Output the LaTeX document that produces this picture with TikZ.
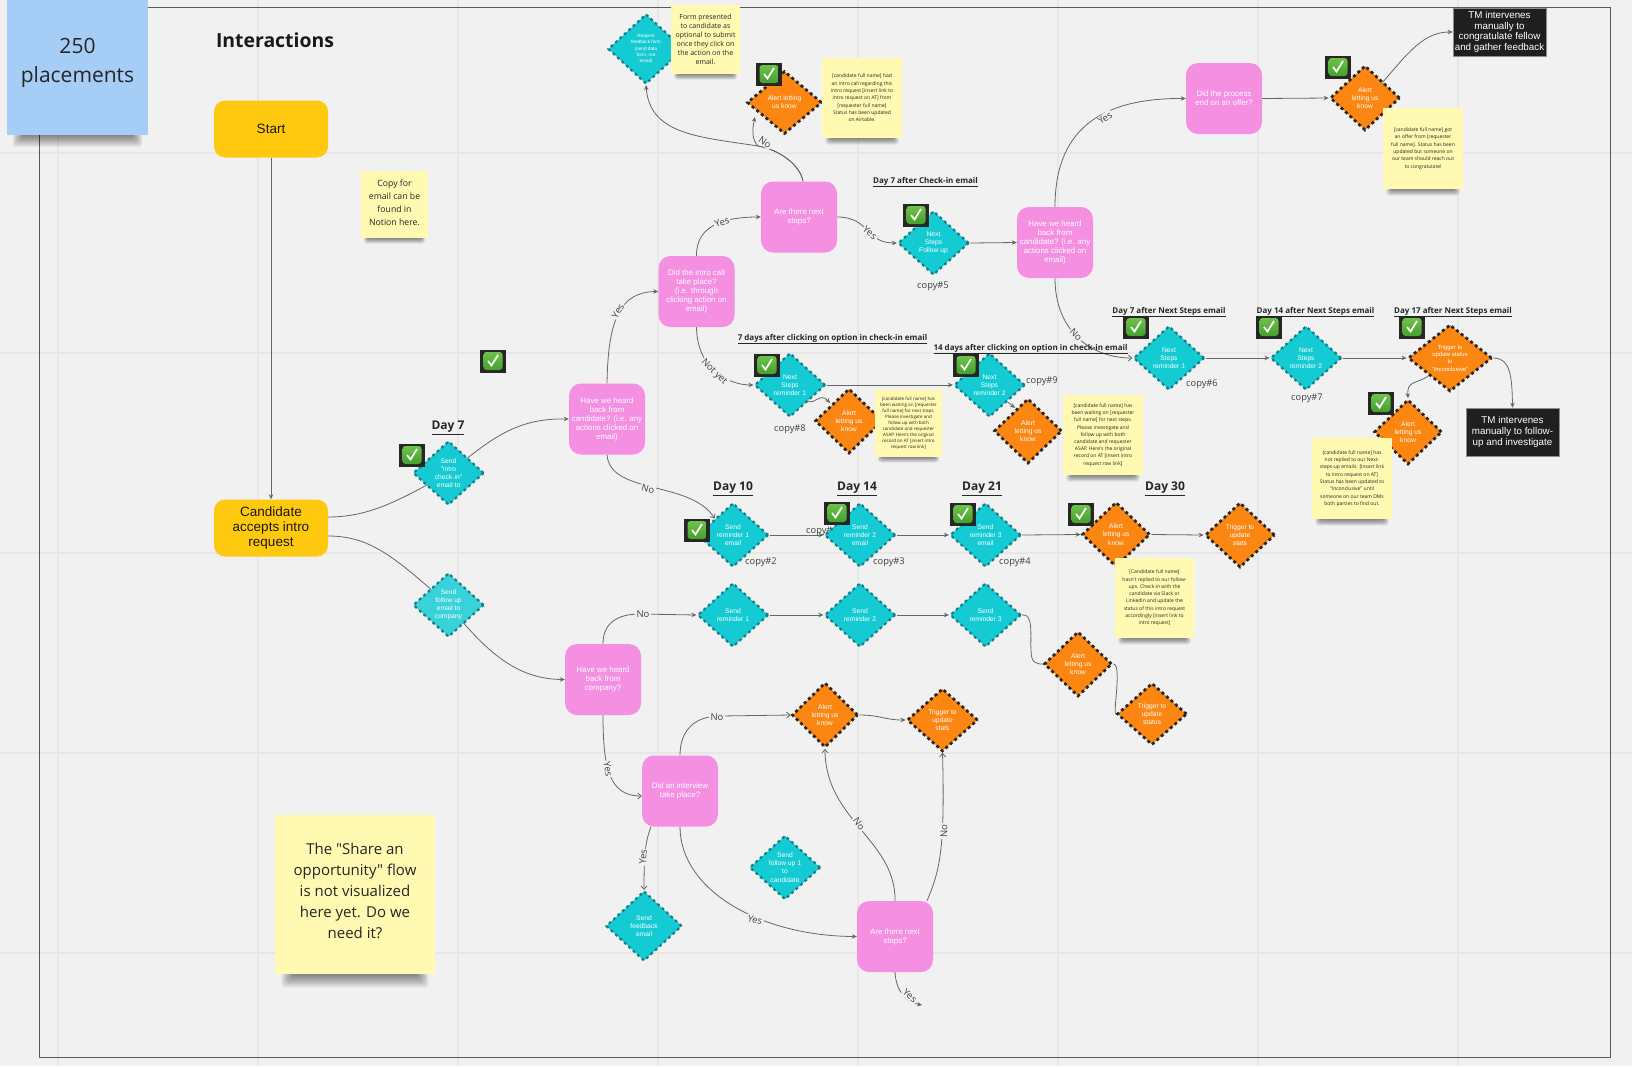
\documentclass[tikz,border=0pt]{standalone}
\usepackage{fontspec}
\setmainfont{Open Sans}[Ligatures=TeXOff]
\newfontfamily\arl{Liberation Sans}[Ligatures=TeXOff]
\usetikzlibrary{shapes.geometric,arrows.meta,calc}
\pgfdeclarelayer{bgl}
\pgfdeclarelayer{conn}
\pgfsetlayers{bgl,conn,main}
\definecolor{bgc}{HTML}{F1F1F1}
\definecolor{gridc}{HTML}{E7E7E7}
\definecolor{framec}{HTML}{5A5A5A}
\definecolor{tealc}{HTML}{14CAD3}
\definecolor{tealb}{HTML}{177E88}
\definecolor{orangec}{HTML}{FB8612}
\definecolor{pinkc}{HTML}{F48FE1}
\definecolor{yelc}{HTML}{FFC90F}
\definecolor{noteyc}{HTML}{FFF9B1}
\definecolor{noteb}{HTML}{A6CDF5}
\definecolor{linec}{HTML}{666666}
\definecolor{chkt}{HTML}{74C74C}
\definecolor{chkb}{HTML}{3F9B2B}
\tikzset{
  diafont/.style={font=\arl\fontsize{6.7}{8.1}\selectfont},
  diatext/.style={text=white,align=center,inner sep=0pt,diafont},
  tealdia/.style={shape=diamond,fill=tealc,draw=tealb,line width=2.2pt,dash pattern=on 2.8pt off 3.2pt,inner sep=0pt,minimum width=71pt,minimum height=64pt},
  orangedia/.style={shape=diamond,fill=orangec,draw=black!85,line width=2.7pt,dash pattern=on 3pt off 3pt,inner sep=0pt,minimum width=68pt,minimum height=65pt},
  pinkbox/.style={fill=pinkc,rounded corners=12pt,minimum width=76pt,minimum height=71pt,inner sep=0pt,text=white,align=center,font=\arl\fontsize{7.9}{9}\selectfont},
  yelbox/.style={fill=yelc,rounded corners=11pt,minimum width=114pt,minimum height=57pt,inner sep=0pt,text=black!90,align=center,font=\arl\fontsize{13.5}{15}\selectfont},
  blackbox/.style={fill=black!88,draw=black!45,line width=.6pt,minimum width=93pt,minimum height=48pt,inner sep=0pt,text=white,align=center,font=\arl\fontsize{9.8}{10.7}\selectfont},
  note/.style={fill=noteyc,inner sep=0pt,align=center,text=black!85},
  conn/.style={draw=linec,line width=.8pt},
  farr/.style={conn,-{Stealth[length=5pt,width=4.5pt]}},
  oarr/.style={conn,-{Straight Barb[length=3.5pt,width=6pt]}},
  el/.style={fill=bgc,inner sep=1.2pt,text=black!75,font=\fontsize{9.5}{10}\selectfont},
  daylab/.style={inner sep=0pt,text=black!85,font=\bfseries\fontsize{12}{13}\selectfont},
  sublab/.style={inner sep=0pt,text=black!85,font=\bfseries\fontsize{8}{9}\selectfont},
  copylab/.style={inner sep=0pt,text=black!75,font=\fontsize{9.3}{10}\selectfont},
  chkbox/.style={fill=black!85,minimum width=26pt,minimum height=23pt,inner sep=0pt,
    path picture={
      \shade[top color=chkt,bottom color=chkb,rounded corners=3pt]
        ([shift={(-9.5pt,9pt)}]path picture bounding box.center) rectangle ([shift={(9.5pt,-9pt)}]path picture bounding box.center);
      \draw[white,line width=1.7pt] ([shift={(-5pt,0pt)}]path picture bounding box.center) -- ([shift={(-1.5pt,-4.5pt)}]path picture bounding box.center) -- ([shift={(5pt,6pt)}]path picture bounding box.center);
    }},
}
\newcommand\chk[3]{\node[chkbox] (#1) at (#2,#3) {};}
\newcommand\tdia[5][]{\node[tealdia,#1,label={[diatext]center:{#5}}] (#2) at (#3,#4) {};}
\newcommand\odia[5][]{\node[orangedia,#1,label={[diatext]center:{#5}}] (#2) at (#3,#4) {};}
\newcommand\sticky[7]{%
  \foreach \i in {1,...,7}{
    \fill[black,opacity=.075,rounded corners=3pt] ([shift={(-#4/2+#4*0.03+#4*0.011*\i,#5/2-1)}]#2,#3) rectangle ([shift={(#4/2-#4*0.03-#4*0.011*\i,#5/2+#4*0.095*(1-\i/8))}]#2,#3);
  }
  \node[note,minimum width=#4pt,minimum height=#5pt,font=#6] (#1) at (#2,#3) {#7};}
\newcommand\sm{\fontsize{5}{7.3}\selectfont}
\begin{document}
\begin{tikzpicture}[x=1pt,y=-1pt]
\useasboundingbox (0,0) rectangle (1632,1066);
\begin{pgfonlayer}{bgl}
\fill[bgc] (0,0) rectangle (1632,1066);
\foreach \gx in {58,258,458,658,858,1058,1258,1458} \draw[gridc,line width=2pt] (\gx,0) -- (\gx,1066);
\foreach \gy in {153,353,553,753,953} \draw[gridc,line width=2pt] (0,\gy) -- (1632,\gy);
\draw[framec,line width=1pt] (39,7) rectangle (1610,1057);
\end{pgfonlayer}

% text that lies under shapes
\node[copylab,anchor=west] (c1) at (806,531) {copy\#1};

% blue sticky
\begin{scope}[note/.append style={fill=noteb}]
\sticky{blue}{77.5}{67.5}{141}{135}{\normalsize}{}
\end{scope}
\node[inner sep=0pt,align=center,text=black!85,font=\fontsize{21}{29}\selectfont] (bluet) at (77.5,63) {250\\placements};
\node[inner sep=0pt,text=black!90,font=\bfseries\fontsize{19.4}{22}\selectfont] (title) at (275,40) {Interactions};

% yellow boxes
\node[yelbox] (start) at (271,129) {Start};
\node[yelbox] (cand) at (271,528) {Candidate\\accepts intro\\request};
\sticky{copyn}{394.5}{204.5}{67}{67}{\normalsize}{}
\node[inner sep=0pt,align=center,text=black!85,font=\fontsize{8.7}{12.9}\selectfont] (copyt) at (394.5,202.5) {Copy for\\email can be\\found in\\Notion here.};

% first branch
\tdia{intro}{448.5}{473}{Send\\"intro\\check-in"\\email to}
\tdia[fill=tealc!85!white]{follow}{448.5}{605}{Send\\follow up\\email to\\company}
\node[pinkbox] (heard1) at (607,419) {Have we heard\\back from\\candidate? (i.e. any\\actions clicked on\\email)};
\node[pinkbox] (heardc) at (603,679.5) {Have we heard\\back from\\company?};
\node[pinkbox] (call) at (696.5,291.5) {Did the intro call\\take place?\\(i.e. through\\clicking action on\\email)};
\node[pinkbox] (next) at (799,217) {Are there next\\steps?};
\node[pinkbox] (heard3) at (1055,242.5) {Have we heard\\back from\\candidate? (i.e. any\\actions clicked on\\email)};
\node[pinkbox] (proc) at (1224,98.5) {Did the process\\end on an offer?};
\node[pinkbox] (inter) at (680,791) {Did an interview\\take place?};
\node[pinkbox] (next2) at (895,936.5) {Are there next\\steps?};

% top area
\begin{scope}[diafont/.style={font=\arl\fontsize{4.7}{6.2}\selectfont}]
\tdia[minimum width=76pt,minimum height=70pt]{req}{646}{49}{Request\\feedback form\\(send data\\form, not\\email)}
\end{scope}
\sticky{form}{705.5}{39.5}{69}{69}{\fontsize{7}{9}\selectfont}{Form presented\\to candidate as\\optional to submit\\once they click on\\the action on the\\email.}
\odia[minimum width=75pt,minimum height=63pt]{atop}{784.5}{102.5}{Alert letting\\us know}
\sticky{ntop}{862}{98}{80}{80}{\sm}{[candidate full name] had\\an intro call regarding this\\intro request [insert link to\\intro request on AT] from\\{}[requester full name]\\Status has been updated\\on Airtable.}
\odia[minimum width=70pt,minimum height=65pt]{aoffer}{1365}{98}{Alert\\letting us\\know}
\sticky{noffer}{1423}{148.5}{80}{81}{\sm}{[candidate full name] got\\an offer from [requester\\full name]. Status has been\\updated but someone on\\our team should reach out\\to congratulate!}
\node[blackbox] (tm1) at (1499.5,32) {TM intervenes\\manually to\\congratulate fellow\\and gather feedback};

\tdia{fu}{933.5}{243}{Next\\Steps\\Follow up}
\tdia{n1}{790}{385}{Next\\Steps\\reminder 1}
\tdia{n2}{989.5}{385}{Next\\Steps\\reminder 2}
\odia{a1}{849}{421}{Alert\\letting us\\know}
\odia{a2}{1028}{431}{Alert\\letting us\\know}
\sticky{nw1}{908.5}{423.5}{67}{67}{\fontsize{4.5}{6}\selectfont}{[candidate full name] has\\been waiting on [requester\\full name] for next steps.\\Please investigate and\\follow up with both\\candidate and requester\\ASAP. Here's the original\\record on AT [insert intro\\request row link]}
\sticky{nw2}{1103}{435}{80}{80}{\fontsize{5}{7.2}\selectfont}{[candidate full name] has\\been waiting on [requester\\full name] for next steps.\\Please investigate and\\follow up with both\\candidate and requester\\ASAP. Here's the original\\record on AT [insert intro\\request row link]}
\tdia{s1}{1169}{358}{Next\\Steps\\reminder 1}
\tdia{s2}{1306}{358}{Next\\Steps\\reminder 2}
\begin{scope}[diafont/.style={font=\arl\fontsize{5.9}{7.3}\selectfont}]
\odia[minimum width=84pt,minimum height=67pt]{trig}{1450}{358}{Trigger to\\update status\\to\\"Inconclusive"}
\end{scope}
\odia{al}{1408}{432}{Alert\\letting us\\know}
\sticky{nl}{1352}{478.5}{80}{81}{\sm}{[candidate full name] has\\not replied to our Next-\\steps-up emails. [Insert link\\to intro request on AT]\\Status has been updated to\\"Inconclusive" until\\someone on our team DMs\\both parties to find out.}
\node[blackbox] (tm2) at (1512.5,432) {TM intervenes\\manually to follow-\\up and investigate};

% day rows
\tdia{r1}{733}{535}{Send\\reminder 1\\email}
\tdia{r2}{860}{535}{Send\\reminder 2\\email}
\tdia{r3}{985.5}{535}{Send\\reminder 3\\email}
\odia{ad}{1116}{534.5}{Alert\\letting us\\know}
\odia[minimum width=70pt]{td}{1240}{535}{Trigger to\\update\\stats}
\sticky{nd}{1154.5}{598}{79}{80}{\sm}{[Candidate full name]\\hasn't replied to our follow-\\ups. Check-in with the\\candidate via Slack or\\LinkedIn and update the\\status of this intro request\\accordingly [insert link to\\intro request]}
\tdia{c1d}{733}{615}{Send\\reminder 1}
\tdia{c2d}{860}{615}{Send\\reminder 2}
\tdia{c3d}{985.5}{615}{Send\\reminder 3}
\odia{ac}{1078}{664}{Alert\\letting us\\know}
\odia[minimum width=70pt,minimum height=62pt]{tc}{1152}{714}{Trigger to\\update\\status}

% bottom
\odia[minimum width=66pt]{ab}{825}{715}{Alert\\letting us\\know}
\odia[minimum width=71pt,minimum height=63pt]{tb}{942.5}{720}{Trigger to\\update\\stats}
\tdia{fu1}{785}{867.5}{Send\\follow up 1\\to\\candidate}
\tdia[minimum width=76pt,minimum height=70pt]{fb}{644}{926}{Send\\feedback\\email}
\sticky{share}{355}{894.5}{160}{159}{\normalsize}{}
\node[inner sep=0pt,align=center,text=black!85,font=\fontsize{15}{21}\selectfont] (sharet) at (355,890.5) {The "Share an\\opportunity" flow\\is not visualized\\here yet. Do we\\need it?};

% check marks
\chk{k1}{493}{361}
\chk{k2}{412}{455}
\chk{k3}{769}{74}
\chk{k4}{1338}{67}
\chk{k5}{916}{215}
\chk{k6}{767}{365}
\chk{k7}{966}{365}
\chk{k8}{1136}{327}
\chk{k9}{1269}{327}
\chk{k10}{1412}{327}
\chk{k11}{1381}{403}
\chk{k12}{697}{530}
\chk{k13}{837}{513}
\chk{k14}{963}{514}
\chk{k15}{1081}{514}

% labels
\node[daylab] (d7) at (448,428) {\underline{Day 7}};
\node[daylab] (d10) at (733,489) {\underline{Day 10}};
\node[daylab] (d14) at (857,489) {\underline{Day 14}};
\node[daylab] (d21) at (982,489) {\underline{Day 21}};
\node[daylab] (d30) at (1165,489) {\underline{Day 30}};
\node[sublab] (h1) at (925.5,182) {\underline{Day 7 after Check-in email}};
\node[sublab] (h2) at (832.5,339) {\underline{7 days after clicking on option in check-in email}};
\node[sublab] (h3) at (1030.5,349) {\underline{14 days after clicking on option in check-in email}};
\node[sublab] (h4) at (1169,312) {\underline{Day 7 after Next Steps email}};
\node[sublab] (h5) at (1315.5,312) {\underline{Day 14 after Next Steps email}};
\node[sublab] (h6) at (1453,312) {\underline{Day 17 after Next Steps email}};
\node[copylab] (cp2) at (761,562) {copy\#2};
\node[copylab] (cp3) at (889,562) {copy\#3};
\node[copylab] (cp4) at (1015,562) {copy\#4};
\node[copylab] (cp5) at (933,286) {copy\#5};
\node[copylab] (cp6) at (1202,384) {copy\#6};
\node[copylab] (cp7) at (1307,398) {copy\#7};
\node[copylab] (cp8) at (790,429) {copy\#8};
\node[copylab] (cp9) at (1042,381) {copy\#9};

% connectors
\begin{pgfonlayer}{conn}
\coordinate (yesend) at (922,1005);
\draw[farr] (start.south) -- (cand.north);
\draw[conn] ([yshift=11pt]cand.east) .. controls (370,517) and (400,500) .. (intro.center);
\draw[farr] (intro.center) .. controls (490,440) and (515,418) .. (heard1.west);
\draw[conn] ([yshift=-8pt]cand.east) .. controls (370,536) and (395,557) .. (follow.center);
\draw[farr] (follow.center) .. controls (485,650) and (515,679) .. (heardc.west);
\draw[farr] (heard1.north) .. controls (608,320) and (620,292) .. (call.west);
\node[el,rotate=60] (l1) at (618,311) {Yes};
\draw[oarr] (heard1.south) .. controls (610,495) and (690,480) .. (r1.north west);
\node[el,rotate=-15] (l2) at (648,489) {No};
\draw[farr] (call.north) .. controls (696,225) and (725,217) .. (next.west);
\node[el,rotate=20] (l3) at (722,222) {Yes};
\draw[farr] (call.south) .. controls (697,370) and (730,385) .. (n1.west);
\node[el,rotate=-45] (l4) at (714,372) {Not yet};
\draw[farr] (next.east) .. controls (870,217) and (865,243) .. (fu.west);
\node[el,rotate=-40] (l5) at (870,233) {Yes};
\draw[farr] ([xshift=4pt]next.north) .. controls (800,165) and (780,150) .. (758,146) .. controls (752,140) and (752,130) .. ([shift={(-29.5,14.5)}]atop.center);
\draw[farr] ([xshift=4pt]next.north) .. controls (800,165) and (780,150) .. (758,146) .. controls (700,137) and (650,135) .. (req.south);
\node[el,rotate=-35] (l6) at (765,142) {No};
\draw[farr] (fu.east) -- (heard3.west);
\draw[farr] (heard3.north) .. controls (1055,130) and (1100,98) .. (proc.west);
\node[el,rotate=35] (l7) at (1105,118) {Yes};
\draw[oarr] (heard3.south) .. controls (1055,330) and (1090,358) .. (s1.west);
\node[el,rotate=-45] (l8) at (1076,335) {No};
\draw[farr] (n1.east) -- (n2.west);
\draw[farr] ([shift={(18,16)}]n1.center) .. controls (815,405) and (820,392) .. ([shift={(-19,-18)}]a1.center);
\draw[farr] ([shift={(18,17)}]n2.center) -- ([shift={(-13,-23)}]a2.center);
\draw[farr] (s1.east) -- (s2.west);
\draw[farr] (s2.east) -- (trig.west);
\draw[farr] ([shift={(-20,17)}]trig.center) .. controls (1415,385) and (1407,380) .. (al.north);
\draw[farr] (trig.east) .. controls (1510,358) and (1512,375) .. (tm2.north);
\draw[farr] (r1.east) -- (r2.west);
\draw[farr] (r2.east) -- (r3.west);
\draw[farr] (r3.east) -- (ad.west);
\draw[farr] (ad.east) -- (td.west);
\draw[farr] (heardc.north) .. controls (603,625) and (615,614) .. (640,614) -- (c1d.west);
\node[el] (l9) at (643,614) {No};
\draw[farr] (c1d.east) -- (c2d.west);
\draw[farr] (c2d.east) -- (c3d.west);
\draw[conn] (c3d.east) .. controls (1034,612) and (1030,640) .. (1031,650) .. controls (1031,662) and (1035,664) .. (ac.west);
\draw[conn] (ac.east) .. controls (1122,664) and (1113,712) .. (tc.west);
\draw[oarr] (heardc.south) .. controls (603,770) and (610,796) .. ([yshift=-5pt]inter.west);
\node[el,rotate=-80] (l10) at (608,769) {Yes};
\draw[oarr] (inter.north) .. controls (680,730) and (695,716) .. (720,716) -- (ab.west);
\node[el] (l11) at (717,717) {No};
\draw[farr] (ab.east) .. controls (880,715) and (885,720) .. (tb.west);
\draw[oarr] ([xshift=-29pt]inter.south) .. controls (646,840) and (644,850) .. (fb.north);
\node[el,rotate=85] (l12) at (643,857) {Yes};
\draw[farr] (inter.south) .. controls (680,890) and (760,936) .. (next2.west);
\node[el,rotate=-15] (l13) at (755,920) {Yes};
\draw[oarr] (next2.north) .. controls (896,840) and (825,820) .. (ab.south);
\node[el,rotate=-55] (l14) at (859,824) {No};
\draw[oarr] ([xshift=32pt]next2.north) .. controls (940,870) and (945,850) .. (tb.south);
\node[el,rotate=90] (l15) at (944,831) {No};
\draw[farr] (next2.south) .. controls (896,990) and (905,1002) .. (yesend);
\node[el,rotate=-40] (l16) at (910,996) {Yes};
\draw[farr] (proc.east) -- (aoffer.west);
\draw[farr] ([shift={(18,-16)}]aoffer.center) .. controls (1410,50) and (1425,32) .. (tm1.west);
\end{pgfonlayer}
\end{tikzpicture}
\end{document}
